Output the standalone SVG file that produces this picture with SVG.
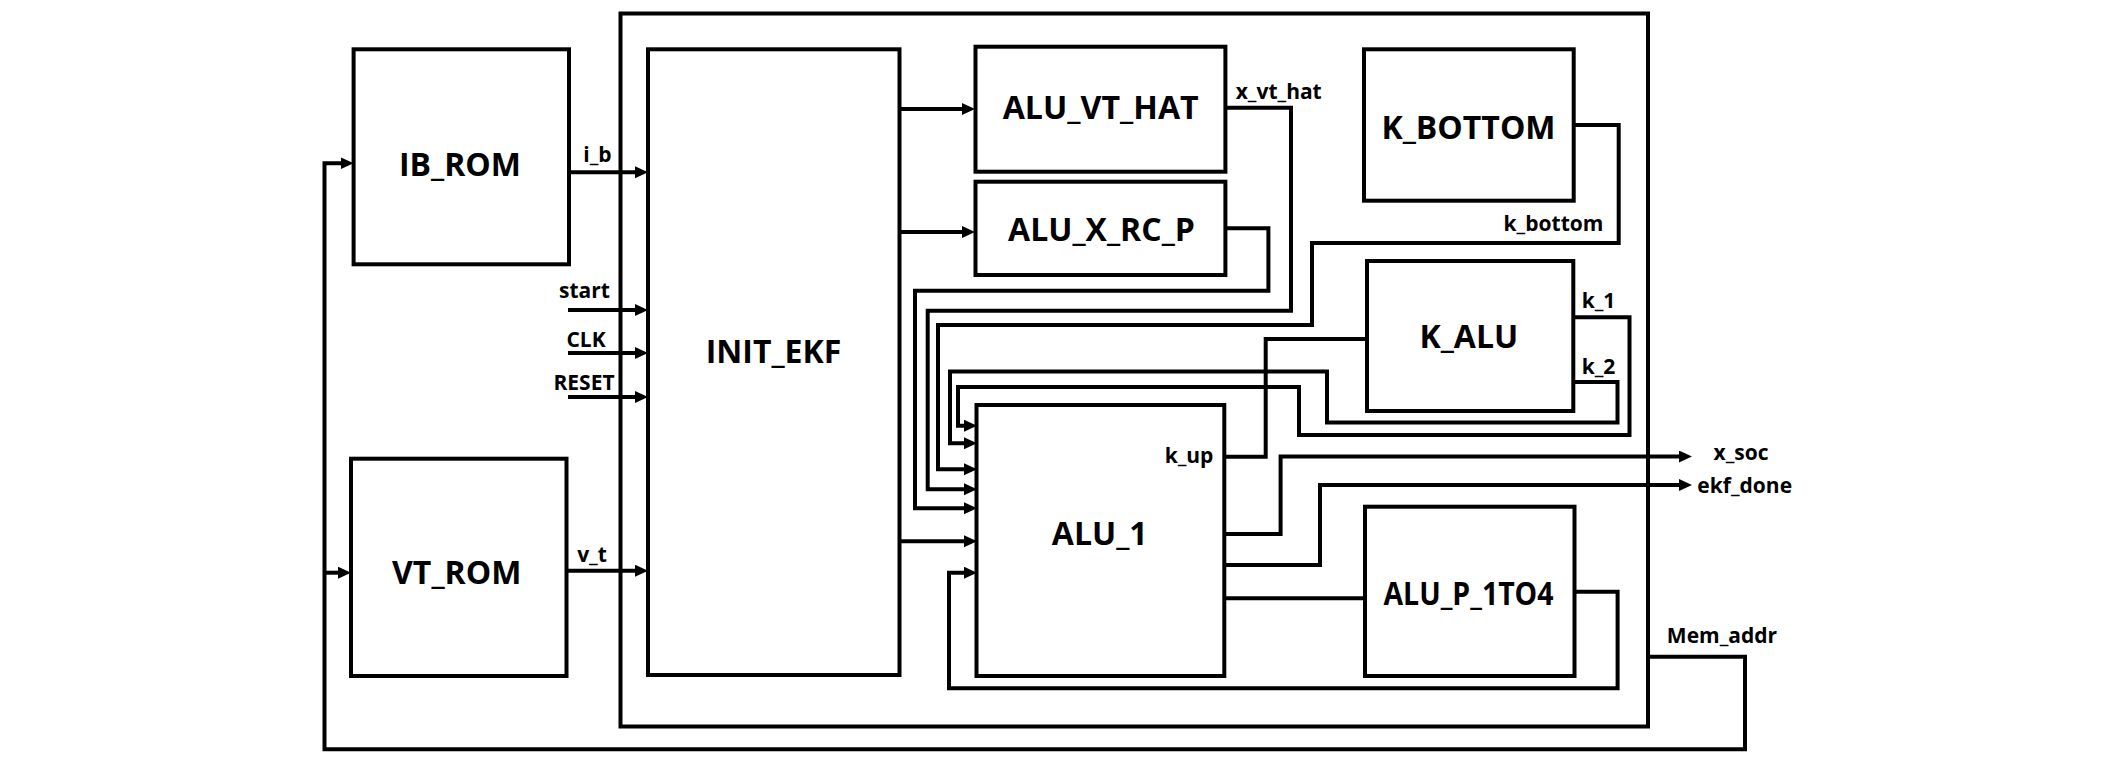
<svg xmlns="http://www.w3.org/2000/svg" width="2124" height="764" viewBox="0 0 2124 764">
<style>
.box{fill:#fff;stroke:#000;stroke-width:4}
.frame{fill:none;stroke:#000;stroke-width:4}
.w{fill:none;stroke:#000;stroke-width:4;stroke-linejoin:miter}
.big{font-family:"Open Sans","Noto Sans CJK KR",sans-serif;font-weight:bold;font-size:32px;text-anchor:middle;fill:#000}
.sm{font-family:"Open Sans","Noto Sans CJK KR",sans-serif;font-weight:bold;font-size:21px;text-anchor:middle;fill:#000}
</style>
<defs>
<marker id="ah" markerUnits="userSpaceOnUse" markerWidth="14" markerHeight="13" refX="4" refY="6" orient="auto">
<path d="M0,0 L13,6 L0,12 z" fill="#000"/>
</marker>
</defs>
<rect width="2124" height="764" fill="#fff"/>
<rect id="frame" class="frame" x="620.5" y="13.5" width="1027.5" height="713"/>
<g id="IB_ROM"><rect class="box" x="353.6" y="49.3" width="215.4" height="215"/><text class="big" x="460" y="176">IB_ROM</text></g>
<g id="VT_ROM"><rect class="box" x="351" y="458.7" width="215.5" height="217.3"/><text class="big" x="456.7" y="584">VT_ROM</text></g>
<g id="INIT_EKF"><rect class="box" x="648" y="49.3" width="251.5" height="625.7"/><text class="big" x="773.5" y="363">INIT_EKF</text></g>
<g id="ALU_VT_HAT"><rect class="box" x="975.5" y="46.7" width="249.9" height="125"/><text class="big" x="1100.7" y="119.3" textLength="196" lengthAdjust="spacingAndGlyphs">ALU_VT_HAT</text></g>
<g id="ALU_X_RC_P"><rect class="box" x="975.5" y="181.7" width="249.9" height="93.3"/><text class="big" x="1101.5" y="240.7">ALU_X_RC_P</text></g>
<g id="K_BOTTOM"><rect class="box" x="1364" y="49.3" width="209.7" height="151.4"/><text class="big" x="1468.5" y="139.3">K_BOTTOM</text></g>
<g id="K_ALU"><rect class="box" x="1367" y="261" width="206.3" height="150"/><text class="big" x="1468.8" y="347.5">K_ALU</text></g>
<g id="ALU_1"><rect class="box" x="976.5" y="405" width="247.8" height="271"/><text class="big" x="1099.7" y="545">ALU_1</text></g>
<g id="ALU_P_1TO4"><rect class="box" x="1365" y="506.7" width="209.5" height="169.3"/><text class="big" x="1468.5" y="605" textLength="170" lengthAdjust="spacingAndGlyphs">ALU_P_1TO4</text></g>
<g id="connectors">
<path class="w" marker-end="url(#ah)" d="M569,172.3 H639"/>
<path class="w" marker-end="url(#ah)" d="M568,310 H639"/>
<path class="w" marker-end="url(#ah)" d="M568,353 H639"/>
<path class="w" marker-end="url(#ah)" d="M568,397 H639"/>
<path class="w" marker-end="url(#ah)" d="M566.5,570.7 H639"/>
<path class="w" marker-end="url(#ah)" d="M899.5,109 H966"/>
<path class="w" marker-end="url(#ah)" d="M899.5,232 H966"/>
<path class="w" marker-end="url(#ah)" d="M899.5,541.3 H968"/>
<path class="w" marker-end="url(#ah)" d="M1225,228.3 H1268.4 V290.7 H915 V508.3 H968"/>
<path class="w" marker-end="url(#ah)" d="M1225,107.7 H1291 V310.7 H927.7 V489.3 H968"/>
<path class="w" marker-end="url(#ah)" d="M1574,125 H1618.7 V243 H1312 V325 H938 V469.3 H968"/>
<path class="w" marker-end="url(#ah)" d="M1573,382 H1617.5 V422.5 H1327 V371.5 H950 V443.3 H968"/>
<path class="w" marker-end="url(#ah)" d="M1573,317.3 H1629.5 V435 H1299 V387 H958 V425.7 H968"/>
<path class="w" d="M1224,456.7 H1265.7 V339 H1367"/>
<path class="w" marker-end="url(#ah)" d="M1224,534 H1280.6 V456.5 H1683"/>
<path class="w" marker-end="url(#ah)" d="M1224,565 H1320 V485 H1683"/>
<path class="w" d="M1224,598.3 H1365"/>
<path class="w" marker-end="url(#ah)" d="M1574.5,591.7 H1617.6 V688.3 H949 V572.7 H968"/>
<path class="w" marker-end="url(#ah)" d="M1648,656.7 H1745 V749.3 H324.5 V163.3 H344.6"/>
<path class="w" marker-end="url(#ah)" d="M324.5,572.7 H342"/>
<text class="sm" x="597.5" y="162">i_b</text>
<text class="sm" x="584.5" y="297.7">start</text>
<text class="sm" x="586" y="346.7">CLK</text>
<text class="sm" x="584" y="390">RESET</text>
<text class="sm" x="592" y="561.7">v_t</text>
<text class="sm" x="1278.7" y="99">x_vt_hat</text>
<text class="sm" x="1553.5" y="230.7">k_bottom</text>
<text class="sm" x="1598.5" y="308">k_1</text>
<text class="sm" x="1598.5" y="374">k_2</text>
<text class="sm" x="1189" y="463">k_up</text>
<text class="sm" x="1741" y="460">x_soc</text>
<text class="sm" x="1744.7" y="493">ekf_done</text>
<text class="sm" x="1722" y="643">Mem_addr</text>
</g>
</svg>
